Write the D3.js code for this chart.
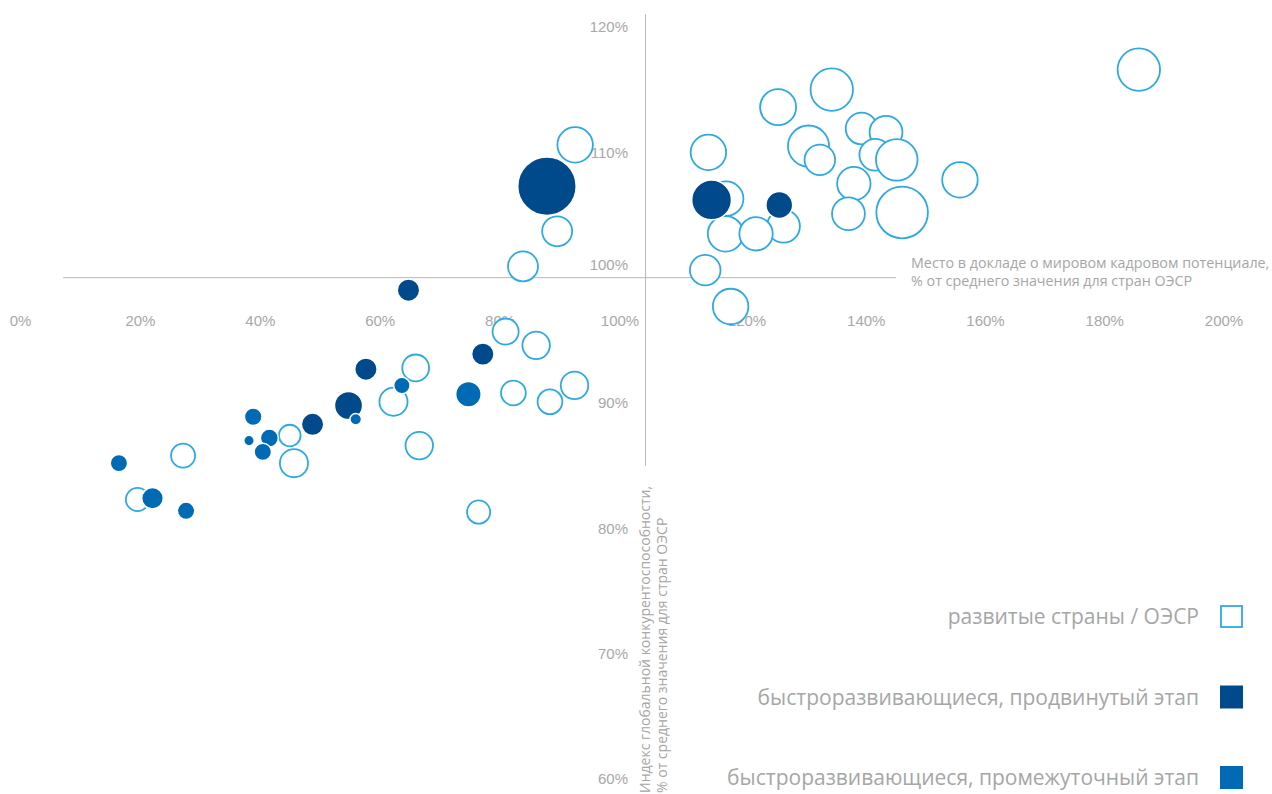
<!DOCTYPE html>
<html>
<head>
<meta charset="utf-8">
<script src="https://cdn.jsdelivr.net/npm/d3@7/dist/d3.min.js"></script>
<style>
  html, body { margin: 0; padding: 0; background: #fff; }
  svg { display: block; font-family: "Open Sans", "Noto Sans", sans-serif; font-weight: 400; }
  .tick text { fill: #a8a8a8; font-size: 15px; }
</style>
</head>
<body>
<svg id="chart" width="1272" height="794"></svg>
<script>
// Tick values (% of OECD average)
const xTicks = [0, 20, 40, 60, 80, 100, 120, 140, 160, 180, 200];
const yTicks = [60, 70, 80, 90, 100, 110, 120];

// Developed countries / OECD
const developedX = [185.8, 134.3, 125.3, 92.6, 114.0, 130.4, 132.3, 139.3, 143.4, 141.6, 145.2, 155.8,
                    138.0, 137.1, 146.1, 116.8, 126.2, 116.7, 121.6, 89.6, 83.9, 113.5, 117.5, 81.0,
                    86.1, 66.0, 62.3, 82.3, 92.5, 88.4, 45.0, 66.6, 27.2, 45.7, 19.6, 76.5];
const developedY = [116.6, 115.0, 113.6, 110.6, 110.0, 110.5, 109.4, 111.9, 111.6, 109.8, 109.4, 107.8,
                    107.5, 105.1, 105.2, 106.3, 104.1, 103.5, 103.5, 103.7, 100.9, 100.6, 97.7, 95.7,
                    94.6, 92.8, 90.1, 90.8, 91.4, 90.1, 87.4, 86.6, 85.8, 85.2, 82.3, 81.3];
const developedSize = [50, 50, 36, 35, 35, 47, 26, 28, 30, 28, 48, 35,
                       31, 30, 74, 33, 30, 35, 31, 25, 25, 26, 35, 19,
                       21, 20, 22, 17, 21, 17, 13, 21, 16, 22, 15, 15];

// Fast-developing, advanced stage
const advancedX = [87.9, 114.5, 125.5, 64.8, 77.2, 57.7, 54.8, 48.8];
const advancedY = [107.3, 106.2, 105.8, 99.0, 93.9, 92.7, 89.8, 88.3];
const advancedSize = [95, 44, 20, 14, 14, 14, 22, 14];

// Fast-developing, intermediate stage
const intermediateX = [63.7, 74.8, 38.9, 41.6, 38.2, 40.5, 16.5, 22.1, 27.7, 56.0];
const intermediateY = [91.4, 90.7, 88.9, 87.2, 87.0, 86.1, 85.2, 82.4, 81.4, 88.7];
const intermediateSize = [7.5, 18, 8.6, 9, 3.1, 8.4, 8.4, 13, 8.4, 3.7];

// Reference lines: OECD-average crosshair
const hLineY = 100, hLineX = [7.2, 145.1];
const vLineX = 104.1, vLineY = [85.0, 121.0];

const legendLabels = [
  "развитые страны / ОЭСР",
  "быстроразвивающиеся, продвинутый этап",
  "быстроразвивающиеся, промежуточный этап"
];
const xTitle = ["Место в докладе о мировом кадровом потенциале,", "% от среднего значения для стран ОЭСР"];
const yTitle = ["Индекс глобальной конкурентоспособности,", "% от среднего значения для стран ОЭСР"];

const colors = { developed: "#2fa9e1", advanced: "#004a8c", intermediate: "#006bb4" };
const gridColor = "#b8b8b8";
const textColor = "#a6a6a6";

const svg = d3.select("#chart");

const x = d3.scaleLinear().domain([0, 100, 120, 200]).range([20, 619.5, 746.5, 1223.5]);
const y = d3.scaleLinear().domain([60, 120]).range([779, 27]);
const r = d3.scaleSqrt().domain([0, 100]).range([0, 30]);

// Crosshair lines
svg.append("line")
  .attr("x1", x(hLineX[0])).attr("x2", x(hLineX[1]))
  .attr("y1", y(hLineY)).attr("y2", y(hLineY))
  .attr("stroke", gridColor).attr("stroke-width", 1);
svg.append("line")
  .attr("x1", x(vLineX)).attr("x2", x(vLineX))
  .attr("y1", y(vLineY[0])).attr("y2", y(vLineY[1]))
  .attr("stroke", gridColor).attr("stroke-width", 1);

// Axes (labels only)
const xAxis = svg.append("g")
  .attr("transform", "translate(0,315)")
  .call(d3.axisBottom(x).tickValues(xTicks).tickSize(0).tickPadding(0).tickFormat(d => d + "%"));
xAxis.select(".domain").remove();

const yAxis = svg.append("g")
  .attr("transform", "translate(628,0)")
  .call(d3.axisLeft(y).tickValues(yTicks).tickSize(0).tickPadding(0).tickFormat(d => d + "%"));
yAxis.select(".domain").remove();
// the 100% label sits just above the horizontal line
yAxis.selectAll(".tick").filter(d => d === 100).select("text").attr("dy", "-0.55em");

// Bubbles
function series(xs, ys, ss) {
  return xs.map((v, i) => ({ x: v, y: ys[i], s: ss[i] }));
}

svg.append("g").selectAll("circle")
  .data(series(developedX, developedY, developedSize))
  .join("circle")
  .attr("cx", d => x(d.x)).attr("cy", d => y(d.y)).attr("r", d => r(d.s))
  .attr("fill", "#fff").attr("stroke", colors.developed).attr("stroke-width", 1.8);

svg.append("g").selectAll("circle")
  .data(series(advancedX, advancedY, advancedSize))
  .join("circle")
  .attr("cx", d => x(d.x)).attr("cy", d => y(d.y)).attr("r", d => r(d.s))
  .attr("fill", colors.advanced).attr("stroke", "#fff").attr("stroke-width", 1.5);

svg.append("g").selectAll("circle")
  .data(series(intermediateX, intermediateY, intermediateSize))
  .join("circle")
  .attr("cx", d => x(d.x)).attr("cy", d => y(d.y)).attr("r", d => r(d.s))
  .attr("fill", colors.intermediate).attr("stroke", "#fff").attr("stroke-width", 1.5);

// X-axis title to the right of the horizontal line
svg.append("text")
  .attr("x", 911).attr("y", 268)
  .attr("fill", textColor).attr("font-size", 14.3)
  .selectAll("tspan").data(xTitle).join("tspan")
  .attr("x", 911).attr("dy", (d, i) => i ? 18 : 0)
  .text(d => d);

// Y-axis title, rotated
svg.append("text")
  .attr("transform", "translate(649.5,793) rotate(-90)")
  .attr("fill", textColor).attr("font-size", 14)
  .selectAll("tspan").data(yTitle).join("tspan")
  .attr("x", 0).attr("dy", (d, i) => i ? 17 : 0)
  .text(d => d);

// Legend
const legendKeys = ["developed", "advanced", "intermediate"];
const legend = svg.append("g");
legendKeys.forEach((k, i) => {
  const cy = 616.5 + i * 80.5;
  legend.append("text")
    .attr("x", 1199).attr("y", cy + 7.5)
    .attr("text-anchor", "end")
    .attr("fill", textColor).attr("font-size", 21)
    .text(legendLabels[i]);
  if (k === "developed") {
    legend.append("rect")
      .attr("x", 1221).attr("y", cy - 10.5).attr("width", 21).attr("height", 21)
      .attr("fill", "#fff").attr("stroke", colors.developed).attr("stroke-width", 1.8);
  } else {
    legend.append("rect")
      .attr("x", 1220).attr("y", cy - 11.5).attr("width", 23).attr("height", 23)
      .attr("fill", colors[k]);
  }
});
</script>
</body>
</html>
